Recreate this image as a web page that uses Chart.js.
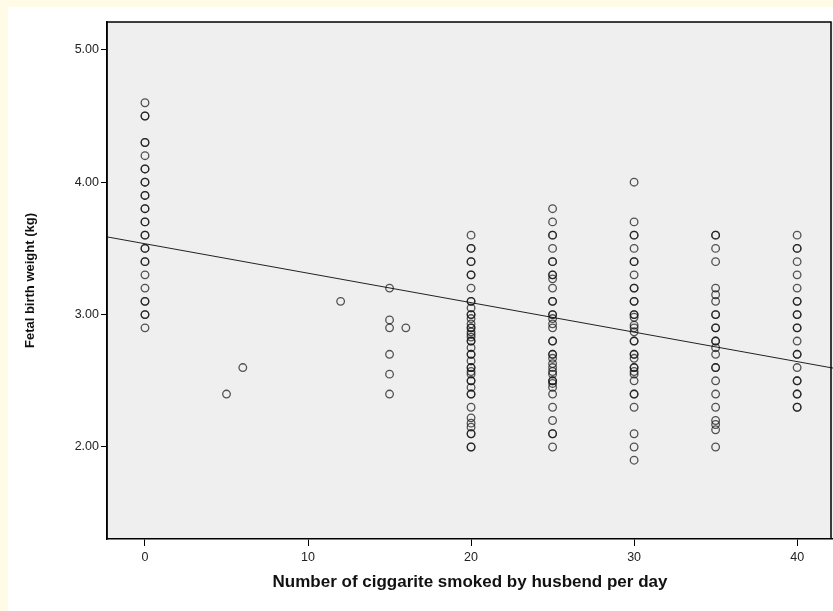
<!DOCTYPE html>
<html>
<head>
<meta charset="utf-8">
<title>Fetal birth weight vs husband smoking</title>
<script src="https://cdn.jsdelivr.net/npm/chart.js@4.4.1/dist/chart.umd.min.js"></script>
<style>
  html, body { margin: 0; padding: 0; background: #fffbe6; }
  #wrap { width: 833px; height: 611px; }
</style>
</head>
<body>
<div id="wrap"><canvas id="scatterChart" width="833" height="611"></canvas></div>
<script>
// Cigarettes per day (x) and fetal birth weight in kg (y)
const weights0  = [4.6, 4.5, 4.5, 4.3, 4.3, 4.2, 4.1, 4.1, 4.0, 4.0, 3.9, 3.9, 3.8, 3.8, 3.7, 3.7,
                   3.6, 3.6, 3.5, 3.5, 3.4, 3.4, 3.3, 3.2, 3.1, 3.1, 3.0, 3.0, 2.9];
const weights20 = [3.6, 3.5, 3.5, 3.4, 3.4, 3.3, 3.3, 3.2, 3.1, 3.1, 3.05, 3.0, 3.0, 2.97, 2.93, 2.9,
                   2.9, 2.87, 2.85, 2.83, 2.8, 2.8, 2.75, 2.7, 2.7, 2.65, 2.6, 2.6, 2.57, 2.55, 2.5,
                   2.5, 2.45, 2.4, 2.4, 2.3, 2.22, 2.18, 2.15, 2.1, 2.1, 2.0, 2.0];
const weights25 = [3.8, 3.7, 3.6, 3.6, 3.5, 3.4, 3.4, 3.3, 3.3, 3.27, 3.2, 3.1, 3.1, 3.0, 3.0, 2.97,
                   2.93, 2.9, 2.8, 2.8, 2.7, 2.7, 2.67, 2.63, 2.6, 2.57, 2.55, 2.5, 2.5, 2.48, 2.45,
                   2.4, 2.3, 2.2, 2.1, 2.1, 2.0];
const weights30 = [4.0, 3.7, 3.6, 3.6, 3.5, 3.4, 3.4, 3.3, 3.2, 3.2, 3.1, 3.1, 3.0, 3.0, 2.98, 2.92,
                   2.9, 2.87, 2.8, 2.8, 2.7, 2.7, 2.67, 2.6, 2.6, 2.57, 2.55, 2.5, 2.4, 2.4, 2.3,
                   2.1, 2.0, 1.9];
const weights35 = [3.6, 3.6, 3.5, 3.4, 3.2, 3.15, 3.1, 3.0, 3.0, 2.9, 2.9, 2.8, 2.8, 2.75, 2.7, 2.6,
                   2.6, 2.5, 2.4, 2.3, 2.2, 2.17, 2.13, 2.0];
const weights40 = [3.6, 3.5, 3.5, 3.4, 3.3, 3.2, 3.1, 3.1, 3.0, 3.0, 2.9, 2.9, 2.8, 2.7, 2.7, 2.6,
                   2.5, 2.5, 2.4, 2.4, 2.3, 2.3];
// Scattered single observations
const otherCigs    = [5, 6, 12, 15, 15, 15, 15, 15, 15, 16];
const otherWeights = [2.4, 2.6, 3.1, 3.2, 2.96, 2.9, 2.7, 2.55, 2.4, 2.9];

// Fit line end points (at the plot edges)
const fitCigs    = [-2.33, 42.2];
const fitWeights = [3.587, 2.596];

const xTicks = [0, 10, 20, 30, 40];
const yTicks = [2, 3, 4, 5];

// Build point list from the groups
function addGroup(points, cigs, weights) {
    weights.forEach(w => points.push({ x: cigs, y: w }));
}
const points = [];
addGroup(points, 0, weights0);
addGroup(points, 20, weights20);
addGroup(points, 25, weights25);
addGroup(points, 30, weights30);
addGroup(points, 35, weights35);
addGroup(points, 40, weights40);
otherCigs.forEach((c, i) => points.push({ x: c, y: otherWeights[i] }));

const fitPoints = fitCigs.map((c, i) => ({ x: c, y: fitWeights[i] }));

// Background: cream frame, white panel, grey plot area with black box
const backgroundPlugin = {
    id: 'panelBackground',
    beforeDraw(chart) {
        const ctx = chart.ctx;
        const a = chart.chartArea;
        ctx.save();
        ctx.fillStyle = '#fffbe6';
        ctx.fillRect(0, 0, chart.width, chart.height);
        ctx.fillStyle = '#ffffff';
        ctx.fillRect(8, 7, chart.width - 8, chart.height - 7);
        ctx.fillStyle = '#efefef';
        ctx.fillRect(a.left, a.top, a.right - a.left, a.bottom - a.top);
        ctx.restore();
    },
    afterDraw(chart) {
        const ctx = chart.ctx;
        const a = chart.chartArea;
        ctx.save();
        ctx.strokeStyle = '#000';
        ctx.lineWidth = 1.5;
        ctx.beginPath();
        ctx.moveTo(a.left, a.bottom);
        ctx.lineTo(a.left, a.top);
        ctx.lineTo(a.right - 2, a.top);
        ctx.lineTo(a.right - 2, a.bottom);
        ctx.stroke();
        ctx.restore();
    }
};

const axisFont = { family: "'Liberation Sans', Arial, sans-serif", size: 12.5 };

new Chart(document.getElementById('scatterChart').getContext('2d'), {
    type: 'scatter',
    data: {
        datasets: [
            {
                label: 'Observed',
                data: points,
                pointStyle: 'circle',
                pointRadius: 3.8,
                pointBorderWidth: 1.3,
                borderColor: 'rgba(20, 20, 20, 0.72)',
                backgroundColor: 'rgba(0, 0, 0, 0)',
                showLine: false
            },
            {
                label: 'Fit line',
                data: fitPoints,
                showLine: true,
                borderColor: '#222',
                borderWidth: 1,
                pointRadius: 0,
                fill: false
            }
        ]
    },
    options: {
        responsive: false,
        animation: false,
        events: [],
        layout: { autoPadding: false, padding: { top: 22, right: 0, left: 0, bottom: 0 } },
        plugins: {
            legend: { display: false },
            tooltip: { enabled: false }
        },
        scales: {
            x: {
                type: 'linear',
                min: -2.33,
                max: 42.2,
                afterBuildTicks: scale => { scale.ticks = xTicks.map(v => ({ value: v })); },
                afterFit: scale => {
                    scale.height = 72;
                    scale.paddingLeft = 0;
                    scale.paddingRight = 0;
                },
                grid: { drawOnChartArea: false, drawTicks: true, tickLength: 7, color: '#000', lineWidth: 1 },
                border: { display: true, color: '#000', width: 1.5 },
                ticks: { color: '#222', font: axisFont, padding: 4, maxRotation: 0 },
                title: {
                    display: true,
                    text: 'Number of ciggarite smoked by husbend per day',
                    color: '#111',
                    font: { family: "'Liberation Sans', Arial, sans-serif", size: 17, weight: 'bold' },
                    padding: { top: 0, bottom: 18 }
                }
            },
            y: {
                type: 'linear',
                min: 1.305,
                max: 5.21,
                afterBuildTicks: scale => { scale.ticks = yTicks.map(v => ({ value: v })); },
                afterFit: scale => { scale.width = 107; },
                grid: { drawOnChartArea: false, drawTicks: true, tickLength: 6, color: '#000', lineWidth: 1 },
                border: { display: true, color: '#000', width: 1.5 },
                ticks: {
                    color: '#222',
                    font: axisFont,
                    padding: 2,
                    callback: value => value.toFixed(2)
                },
                title: {
                    display: true,
                    text: 'Fetal birth weight (kg)',
                    color: '#111',
                    font: { family: "'Liberation Sans', Arial, sans-serif", size: 13, weight: 'bold' },
                    padding: { top: 23, bottom: 0 }
                }
            }
        }
    },
    plugins: [backgroundPlugin]
});
</script>
</body>
</html>
